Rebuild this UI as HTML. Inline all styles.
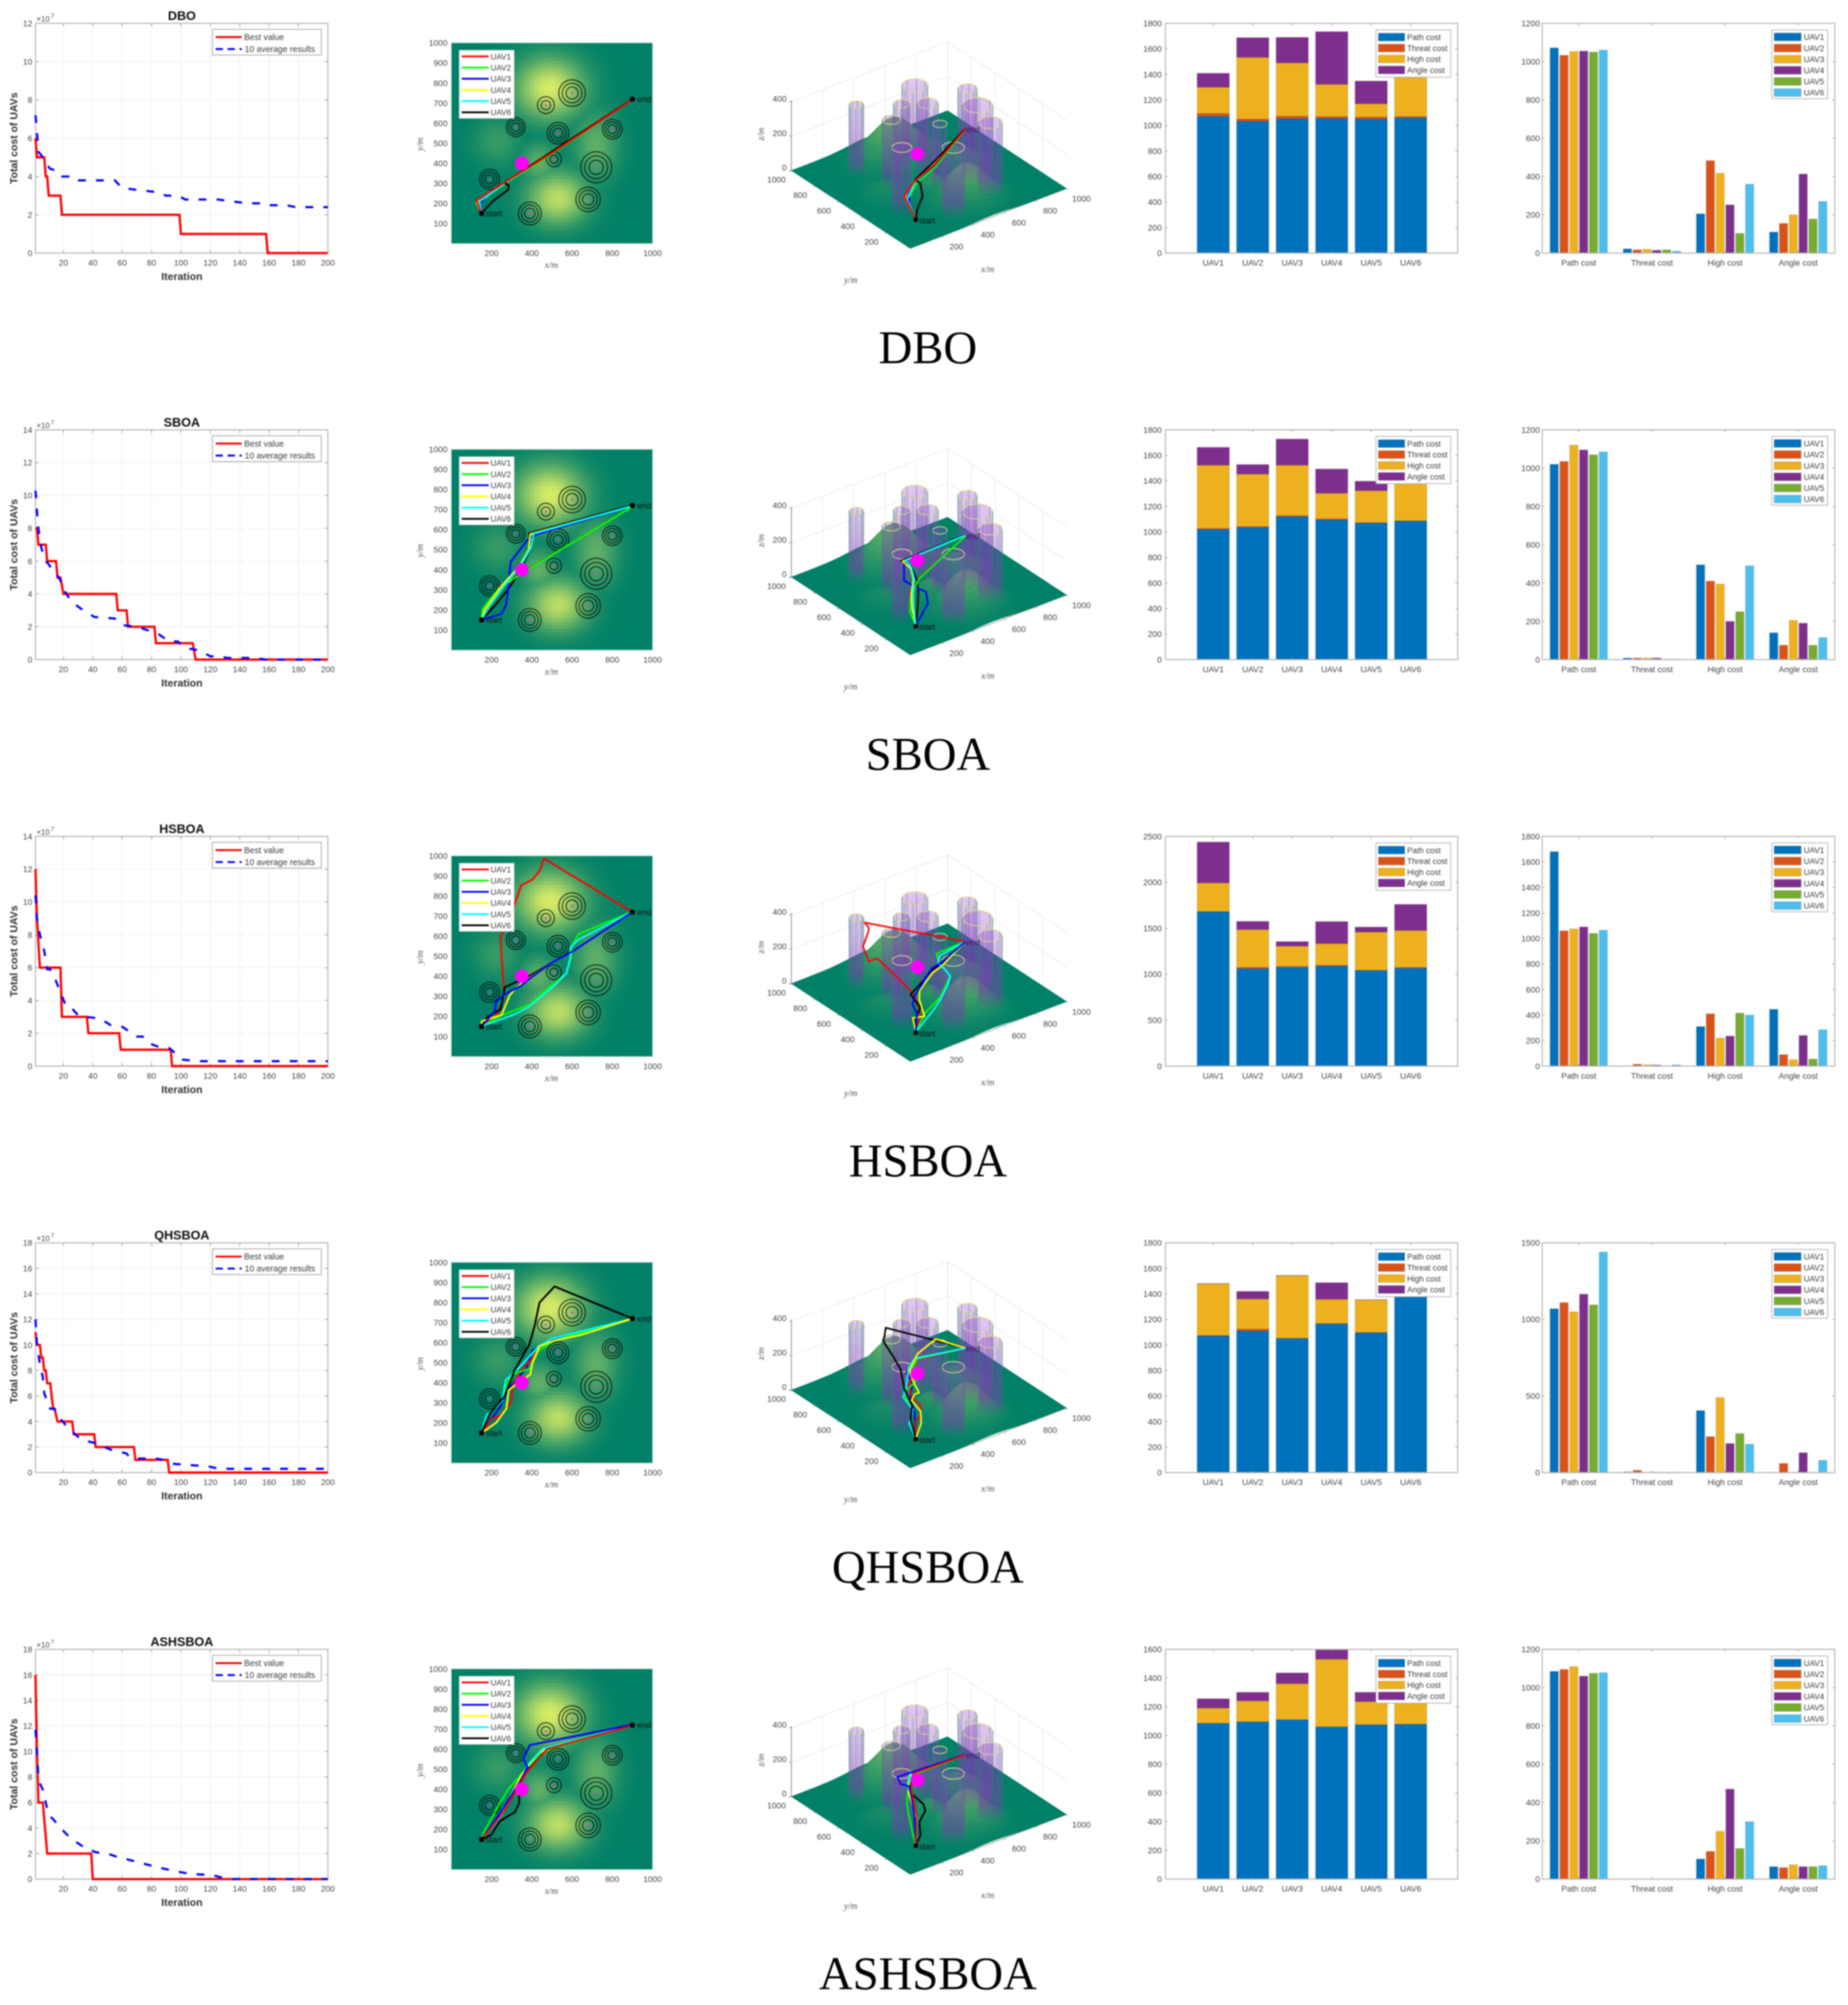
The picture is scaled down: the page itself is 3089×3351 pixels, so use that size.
<!DOCTYPE html>
<html lang="en">
<head>
<meta charset="utf-8">
<title>UAV path planning comparison</title>
<style>
html,body{margin:0;padding:0;background:#fff;}
svg{display:block;filter:blur(1px);}
text{font-family:"Liberation Sans",Arial,sans-serif;}
.tick{font-size:14px;fill:#444;}
.legend-text{font-size:13.5px;fill:#3c3c3c;}
.conv-legend{font-size:14.3px;fill:#3c3c3c;}
.title{font-size:21px;font-weight:bold;fill:#111;text-anchor:middle;}
.bold-label{font-size:17.5px;font-weight:bold;fill:#333;text-anchor:middle;}
.math-label{font-family:"Liberation Serif",serif;font-style:italic;font-size:15.5px;fill:#555;text-anchor:middle;}
.caption{font-family:"Liberation Serif",serif;font-size:78px;fill:#000;text-anchor:middle;}
.marker-label{font-size:14px;fill:#111;}
</style>
</head>
<body>
<svg id="figure" xmlns="http://www.w3.org/2000/svg" width="3089" height="3351" viewBox="0 0 3089 3351">
  <rect x="0" y="0" width="3089" height="3351" fill="#ffffff"/>
  <defs id="defs">
    <clipPath id="stack-clip"><rect x="1948" y="39" width="489" height="384"/></clipPath>
    <linearGradient id="cyl-body" x1="0" y1="0" x2="0" y2="1">
      <stop offset="0" stop-color="#9030c8" stop-opacity="0.24"/>
      <stop offset="0.35" stop-color="#9030c8" stop-opacity="0.34"/>
      <stop offset="0.78" stop-color="#8030b8" stop-opacity="0.46"/>
      <stop offset="1" stop-color="#8030b8" stop-opacity="0"/>
    </linearGradient>
    <linearGradient id="cyl-stripe" x1="0" y1="0" x2="0" y2="1">
      <stop offset="0" stop-color="#2f8a80" stop-opacity="0.5"/>
      <stop offset="0.72" stop-color="#5a6f80" stop-opacity="0.35"/>
      <stop offset="1" stop-color="#5a6f80" stop-opacity="0"/>
    </linearGradient>
  </defs>
  <g id="row-0" transform="translate(0,0)">
    <text class="caption" x="1551" y="607">DBO</text>
    <text class="title" x="304" y="33.5">DBO</text>
  </g>
  <g id="row-1" transform="translate(0,679.4)">
    <text class="caption" x="1551" y="607">SBOA</text>
    <text class="title" x="304" y="33.5">SBOA</text>
  </g>
  <g id="row-2" transform="translate(0,1358.8)">
    <text class="caption" x="1551" y="607">HSBOA</text>
    <text class="title" x="304" y="33.5">HSBOA</text>
  </g>
  <g id="row-3" transform="translate(0,2038.2)">
    <text class="caption" x="1551" y="607">QHSBOA</text>
    <text class="title" x="304" y="33.5">QHSBOA</text>
  </g>
  <g id="row-4" transform="translate(0,2717.6)">
    <text class="caption" x="1551" y="607">ASHSBOA</text>
    <text class="title" x="304" y="33.5">ASHSBOA</text>
  </g>
</svg>
<script>
/* ---------- DATA ---------- */
const convTickX = [20,40,60,80,100,120,140,160,180,200];
const convYMax = [12,14,14,18,18];

const bestDBO = [[1,6],[2,5],[7,5],[8,4],[9,4],[10,3],[18,3],[19,2],[99,2],[100,1],[158,1],[159,0],[200,0]];
const avgDBO = [[1,7.2],[2,6.3],[3,5.3],[6,5],[8,4.7],[11,4.4],[16,4.3],[19,4],[25,4],[28,3.8],[55,3.8],[60,3.4],[70,3.3],[82,3.2],[90,3],[98,3],[103,2.8],[125,2.8],[135,2.7],[145,2.6],[155,2.6],[158,2.5],[172,2.5],[178,2.4],[200,2.4]];
const bestSBOA = [[1,8],[2,8],[3,7],[8,7],[9,6],[15,6],[16,5],[18,5],[20,4],[56,4],[57,3],[63,3],[64,2],[82,2],[83,1],[108,1],[110,0],[200,0]];
const avgSBOA = [[1,10.3],[2,9],[3,8],[5,6.8],[8,6],[10,5.8],[14,5.3],[17,5],[22,4],[26,3.5],[32,3.1],[41,2.6],[55,2.5],[60,2.1],[70,2],[77,1.8],[84,1.6],[92,1.1],[98,1.1],[103,0.7],[110,0.6],[114,0.5],[120,0.2],[125,0.2],[132,0.1],[150,0.1],[158,0],[200,0]];
const bestHSBOA = [[1,12],[2,9],[4,6],[18,6],[19,3],[36,3],[37,2],[58,2],[59,1],[93,1],[94,0],[200,0]];
const avgHSBOA = [[1,10.4],[2,9],[4,8],[7,7],[9,5.9],[11,5.9],[14,5.4],[18,4.5],[22,3.6],[26,3.5],[30,3.1],[35,3],[45,2.9],[52,2.5],[60,2.4],[70,1.8],[74,1.8],[78,1.4],[84,1.2],[92,1.1],[96,0.8],[101,0.4],[110,0.3],[200,0.3]];
const bestQHSBOA = [[1,11],[2,10],[4,10],[5,9],[6,9],[7,8],[8,8],[9,7],[11,7],[13,5],[14,5],[16,4],[26,4],[27,3],[41,3],[42,2],[68,2],[69,1],[91,1],[92,0],[200,0]];
const avgQHSBOA = [[1,12],[2,10],[4,8.5],[6,7.5],[7,6.2],[11,5],[14,5],[18,4.2],[24,3.4],[32,2.6],[35,2.5],[42,2.3],[52,1.8],[63,1.5],[65,1.2],[71,1.1],[83,1.1],[88,1],[94,0.7],[105,0.6],[118,0.5],[126,0.3],[200,0.3]];
const bestASHSBOA = [[1,16],[2,10],[3,6],[6,6],[9,2],[39,2],[40,0],[200,0]];
const avgASHSBOA = [[1,11.7],[2,10],[3,8],[4,7.5],[6,7],[8,6],[10,5],[13,4.7],[18,4],[25,3.2],[34,2.5],[42,2.1],[50,2],[55,1.8],[65,1.5],[75,1.2],[85,0.9],[97,0.6],[107,0.4],[115,0.35],[122,0.3],[130,0.05],[135,0],[200,0]];
const bestSeries = [bestDBO,bestSBOA,bestHSBOA,bestQHSBOA,bestASHSBOA];
const avgSeries = [avgDBO,avgSBOA,avgHSBOA,avgQHSBOA,avgASHSBOA];

const uavNames = ['UAV1','UAV2','UAV3','UAV4','UAV5','UAV6'];
const costNames = ['Path cost','Threat cost','High cost','Angle cost'];

const pathCostDBO = [1072,1033,1053,1055,1050,1060];
const threatCostDBO = [22,17,20,15,17,10];
const highCostDBO = [205,483,417,252,103,360];
const angleCostDBO = [110,155,200,413,178,270];
const pathCostSBOA = [1020,1035,1120,1095,1070,1085];
const threatCostSBOA = [8,8,8,8,3,3];
const highCostSBOA = [495,410,395,200,250,490];
const angleCostSBOA = [140,75,205,190,75,115];
const pathCostHSBOA = [1680,1060,1075,1090,1040,1065];
const threatCostHSBOA = [3,15,10,8,3,10];
const highCostHSBOA = [310,410,220,235,415,400];
const angleCostHSBOA = [445,90,50,240,55,285];
const pathCostQHSBOA = [1070,1110,1050,1165,1095,1440];
const threatCostQHSBOA = [5,15,3,3,3,3];
const highCostQHSBOA = [405,235,490,190,255,185];
const angleCostQHSBOA = [2,60,2,130,2,80];
const pathCostASHSBOA = [1085,1095,1110,1060,1075,1078];
const threatCostASHSBOA = [1,1,1,1,1,1];
const highCostASHSBOA = [105,145,250,470,160,300];
const angleCostASHSBOA = [65,60,75,65,65,70];
const costTable = [
  [pathCostDBO,threatCostDBO,highCostDBO,angleCostDBO],
  [pathCostSBOA,threatCostSBOA,highCostSBOA,angleCostSBOA],
  [pathCostHSBOA,threatCostHSBOA,highCostHSBOA,angleCostHSBOA],
  [pathCostQHSBOA,threatCostQHSBOA,highCostQHSBOA,angleCostQHSBOA],
  [pathCostASHSBOA,threatCostASHSBOA,highCostASHSBOA,angleCostASHSBOA]
];
const stackTicks = [
  [0,200,400,600,800,1000,1200,1400,1600,1800],
  [0,200,400,600,800,1000,1200,1400,1600,1800],
  [0,500,1000,1500,2000,2500],
  [0,200,400,600,800,1000,1200,1400,1600,1800],
  [0,200,400,600,800,1000,1200,1400,1600]
];
const groupTicks = [
  [0,200,400,600,800,1000,1200],
  [0,200,400,600,800,1000,1200],
  [0,200,400,600,800,1000,1200,1400,1600,1800],
  [0,500,1000,1500],
  [0,200,400,600,800,1000,1200]
];
const barColors = ['#0072BD','#D95319','#EDB120','#7E2F8E','#77AC30','#4DBEEE'];

/* threats and terrain in map coordinates (metres) */
const threatX = [600,470,320,530,800,510,720,190,680,390,245];
const threatY = [750,690,580,550,570,420,380,320,220,150,775];
const threatR = [66,42,47,54,49,37,77,50,61,57,37];
const threatTop = [400,365,374,410,392,356,410,375,395,382,400];
const hillX = [490,530,720,435,230];
const hillY = [775,225,490,400,510];
const hillH = [236,205,105,105,60];
const hillSX = [170,150,110,90,120];
const hillSY = [150,130,170,100,120];
const startPoint = [150,150];
const endPoint = [900,720];
const waypoint = [350,400];
const uavLineColors = ['#ff0000','#00ff00','#0000ff','#ffff00','#00ffff','#000000'];
const mapTicks = [100,200,300,400,500,600,700,800,900,1000];
const mapTicksX = [200,400,600,800,1000];
const ticks3D = [200,400,600,800,1000];
const ticksZ = [0,200,400];

/* flight paths: [x, y, z] in metres */
const flightDBO = [
 [[150,150,50],[125,215,160],[263,304,165],[505,455,108],[900,718,57]],
 [[150,150,50],[135,205,130],[268,300,150],[510,455,92],[900,718,57]],
 [[150,150,50],[145,200,120],[178,245,150],[265,302,160],[512,462,100],[900,720,57]],
 [[150,150,50],[125,205,150],[140,225,155],[263,304,165],[510,465,104],[900,720,57]],
 [[150,150,50],[140,210,140],[263,300,165],[510,462,104],[900,720,57]],
 [[150,150,50],[205,210,60],[284,269,82],[285,290,149],[263,304,170],[518,470,118],[900,720,57]]
];
const flightSBOA = [
 [[150,150,50],[190,215,110],[245,320,130],[350,385,150],[900,715,57]],
 [[150,150,50],[155,205,100],[235,305,110],[345,380,150],[900,715,57]],
 [[150,150,50],[250,180,130],[272,225,170],[282,300,150],[295,440,130],[375,545,150],[420,575,150],[900,718,57]],
 [[150,150,50],[165,200,120],[250,320,120],[340,420,130],[385,500,140],[392,578,146],[900,718,57]],
 [[150,150,50],[190,220,120],[270,330,130],[345,420,130],[395,510,140],[410,580,146],[900,718,57]],
 [[150,150,50],[215,220,110],[280,300,130],[340,390,140],[395,510,145],[386,582,150],[900,722,57]]
];
const flightHSBOA = [
 [[150,150,50],[226,211,90],[255,276,130],[262,325,160],[250,494,215],[245,598,243],[315,762,127],[347,853,161],[404,883,215],[439,926,205],[460,987,200],[900,720,57]],
 [[150,150,50],[250,205,100],[394,261,120],[493,350,110],[572,415,110],[597,504,110],[597,545,120],[632,610,130],[895,720,57]],
 [[150,150,50],[216,226,100],[221,271,130],[265,310,150],[350,355,170],[384,385,170],[493,464,160],[602,524,130],[900,720,57]],
 [[150,150,50],[151,176,120],[250,208,80],[290,305,120],[315,335,150],[354,367,140],[493,464,130],[602,524,110],[900,720,57]],
 [[150,150,50],[315,211,100],[384,246,120],[513,355,110],[572,415,110],[592,494,110],[592,544,120],[632,583,130],[897,720,57]],
 [[150,150,50],[176,196,90],[245,236,120],[265,345,140],[394,405,150],[493,464,150],[602,524,120],[900,720,57]]
];
const flightQHSBOA = [
 [[150,150,50],[204,222,100],[244,237,110],[299,307,120],[304,382,130],[354,472,145],[403,521,145],[438,581,150],[513,611,175],[900,720,57]],
 [[150,150,50],[194,252,100],[244,302,110],[284,412,130],[304,442,140],[393,472,150],[433,561,170],[513,611,180],[900,720,57]],
 [[150,150,50],[244,282,110],[284,372,130],[373,472,150],[403,561,160],[513,618,175],[900,720,57]],
 [[150,150,50],[224,202,90],[274,272,110],[284,362,130],[334,402,130],[393,442,100],[403,502,130],[438,581,150],[513,611,210],[650,640,233],[900,720,57]],
 [[150,150,50],[174,237,90],[254,312,110],[269,412,130],[334,472,150],[433,581,170],[503,621,180],[900,720,57]],
 [[150,150,50],[194,252,100],[264,332,120],[314,462,140],[388,591,170],[413,681,190],[438,800,220],[513,880,238],[900,720,57]]
];
const flightASHSBOA = [
 [[150,150,50],[263,292,120],[379,491,150],[475,600,150],[900,718,57]],
 [[150,150,50],[160,182,80],[241,332,120],[284,401,130],[358,487,150],[453,590,150],[900,718,57]],
 [[150,150,50],[263,312,120],[348,451,140],[379,511,150],[358,551,150],[390,620,150],[900,722,57]],
 [[150,150,50],[241,262,120],[348,471,140],[433,580,150],[475,602,150],[900,720,57]],
 [[150,150,50],[251,272,120],[337,421,140],[379,521,150],[453,601,150],[900,720,57]],
 [[150,150,50],[198,173,80],[241,241,110],[316,287,130],[337,331,140],[337,390,150],[348,471,150],[475,600,150],[900,718,57]]
];
const flightSeries = [flightDBO,flightSBOA,flightHSBOA,flightQHSBOA,flightASHSBOA];
const drawOrders = [[1,2,3,4,5,0],[0,5,2,1,3,4],[0,1,5,3,4,2],[2,0,1,4,5,3],[5,1,3,4,2,0]];

/* ---------- HELPERS ---------- */
const SVGNS = 'http://www.w3.org/2000/svg';
function mk(tag, parent, name, attrs, text) {
  const el = document.createElementNS(SVGNS, tag);
  for (const k in attrs) el.setAttribute(k, attrs[k]);
  
  
  if (text !== undefined) el.textContent = text;
  parent.appendChild(el);
  return el;
}
function line(p, name, x1, y1, x2, y2, stroke, w) {
  return mk('line', p, name, {x1:x1, y1:y1, x2:x2, y2:y2, stroke:stroke, 'stroke-width':w});
}
function ptsStr(a) { return a.map(p => p[0].toFixed(1) + ',' + p[1].toFixed(1)).join(' '); }

/* axis functions */
const PLOT_TOP = 39, PLOT_BOTTOM = 423;
const convX = i => 59.3 + (i - 1) * 2.456;
const convY = (v, max) => PLOT_BOTTOM - v / max * (PLOT_BOTTOM - PLOT_TOP);
const mapX = v => 754.5 + v * 0.3362;
const mapY = v => 407 - v * 0.3353;
const proj = (x, y, z) => [1521.4 + x * 0.2612 - y * 0.1986, 415 - x * 0.1 - y * 0.13 - z * 0.2875];
const stackX = i => 2028 + i * 66;
const groupX = i => 2577.8 + (i + 0.5) * 122.3;
const barY = (v, max) => PLOT_BOTTOM - v / max * (PLOT_BOTTOM - PLOT_TOP);

function terrainZ(x, y) {
  let z = 0;
  for (let i = 0; i < hillX.length; i++) {
    const dx = (x - hillX[i]) / hillSX[i], dy = (y - hillY[i]) / hillSY[i];
    z = Math.max(z, hillH[i] * Math.exp(-dx * dx - dy * dy));
  }
  return z;
}
function summer(z, clim) {
  const t = Math.min(1, z / clim);
  return 'rgb(' + Math.round(255 * t) + ',' + Math.round(127.5 + 127.5 * t) + ',102)';
}

/* ---------- SHARED TERRAIN ---------- */
const defs = document.getElementById('defs');
const mapTerrain = mk('g', defs, 'terrain-heatmap', {id:'map-terrain', 'shape-rendering':'crispEdges'});
const CELLS = 56, CELL = 1000 / CELLS;
for (let i = 0; i < CELLS; i++) {
  for (let j = 0; j < CELLS; j++) {
    const cx = (i + 0.5) * CELL, cy = (j + 0.5) * CELL;
    mk('rect', mapTerrain, 'terrain-cell', {
      x: mapX(i * CELL).toFixed(2), y: mapY((j + 1) * CELL).toFixed(2),
      width: (CELL * 0.3362 + 0.4).toFixed(2), height: (CELL * 0.3353 + 0.4).toFixed(2),
      fill: summer(terrainZ(cx, cy), 280)
    });
  }
}
const surface = mk('g', defs, 'terrain-surface', {id:'surface-3d'});
const QS = 20;
for (let x = 1000 - QS; x >= 0; x -= QS) {
  for (let y = 1000 - QS; y >= 0; y -= QS) {
    const c = [[x,y],[x+QS,y],[x+QS,y+QS],[x,y+QS]].map(p => proj(p[0], p[1], terrainZ(p[0], p[1])));
    const col = summer(terrainZ(x + QS / 2, y + QS / 2), 560);
    mk('polygon', surface, 'surface-quad', {points: ptsStr(c), fill: col, stroke: col, 'stroke-width': 0.6});
  }
}

/* cylinders (threat columns) on the 3D scene */
const cylinders = mk('g', defs, 'threat-cylinders', {id:'cylinders-3d'});
const cylOrder = threatX.map((_, i) => i).sort((a, b) => (threatX[b] + threatY[b]) - (threatX[a] + threatY[a]));
cylOrder.forEach(i => {
  const top = threatTop[i], r = threatR[i];
  const ringTop = [], ringBot = [];
  for (let k = 0; k < 48; k++) {
    const t = k / 48 * 2 * Math.PI;
    ringTop.push(proj(threatX[i] + r * Math.cos(t), threatY[i] + r * Math.sin(t), top));
    ringBot.push(proj(threatX[i] + r * Math.cos(t), threatY[i] + r * Math.sin(t), 0));
  }
  let lo = 0, hi = 0;
  ringTop.forEach((p, k) => { if (p[0] < ringTop[lo][0]) lo = k; if (p[0] > ringTop[hi][0]) hi = k; });
  const body = [];
  for (let k = lo; ; k = (k + 47) % 48) { body.push(ringTop[k]); if (k === hi) break; }
  for (let k = hi; ; k = (k + 47) % 48) { body.push(ringBot[k]); if (k === lo) break; }
  mk('polygon', cylinders, 'threat-cylinder-body', {points: ptsStr(body), fill: 'url(#cyl-body)'});
  mk('polygon', cylinders, 'threat-cylinder-top', {points: ptsStr(ringTop), fill: 'rgba(200,120,230,0.06)', stroke: '#e6dc8c', 'stroke-width': 1.5});
  const stripes = [lo, hi];
  for (let k = 0; k < 48; k += 6) stripes.push(k);
  stripes.forEach(k => {
    mk('rect', cylinders, 'threat-cylinder-stripe', {
      x: (ringTop[k][0] - 0.7).toFixed(1), y: ringTop[k][1].toFixed(1),
      width: 1.4, height: (ringBot[k][1] - ringTop[k][1]).toFixed(1),
      fill: 'url(#cyl-stripe)'
    });
  });
});

/* ---------- CHART BUILDERS ---------- */
function drawConvergence(parent, r) {
  const g = mk('g', parent, 'convergence-chart', {});
  const max = convYMax[r];
  mk('rect', g, 'plot-area', {x: convX(1), y: PLOT_TOP, width: convX(200) - convX(1), height: PLOT_BOTTOM - PLOT_TOP, fill: '#fff'});
  convTickX.forEach(t => {
    line(g, 'x-grid-line', convX(t), PLOT_TOP, convX(t), PLOT_BOTTOM, '#ececec', 1);
    line(g, 'x-tick', convX(t), PLOT_BOTTOM, convX(t), PLOT_BOTTOM - 5, '#777', 1);
    line(g, 'x-tick', convX(t), PLOT_TOP, convX(t), PLOT_TOP + 5, '#777', 1);
    mk('text', g, 'x-tick-label', {x: convX(t), y: 444, class: 'tick', 'text-anchor': 'middle'}, t);
  });
  for (let v = 0; v <= max; v += 2) {
    line(g, 'y-grid-line', convX(1), convY(v, max), convX(200), convY(v, max), '#ececec', 1);
    line(g, 'y-tick', convX(1), convY(v, max), convX(1) + 5, convY(v, max), '#777', 1);
    line(g, 'y-tick', convX(200), convY(v, max), convX(200) - 5, convY(v, max), '#777', 1);
    mk('text', g, 'y-tick-label', {x: 54, y: convY(v, max) + 5, class: 'tick', 'text-anchor': 'end'}, v);
  }
  mk('rect', g, 'axes-box', {x: convX(1), y: PLOT_TOP, width: convX(200) - convX(1), height: PLOT_BOTTOM - PLOT_TOP, fill: 'none', stroke: '#b5b5b5', 'stroke-width': 1.8});
  mk('text', g, 'y-axis-exponent', {x: 61, y: 36, class: 'tick', style: 'font-size:13px'}, '×10');
  mk('text', g, 'y-axis-exponent-power', {x: 85, y: 30, class: 'tick', style: 'font-size:10px'}, '7');
  mk('text', g, 'x-axis-title', {x: 304, y: 468, class: 'bold-label'}, 'Iteration');
  mk('text', g, 'y-axis-title', {x: 0, y: 0, class: 'bold-label', transform: 'translate(29,231) rotate(-90)'}, 'Total cost of UAVs');

  const toPts = s => s.map(p => [convX(p[0]), convY(p[1], max)]);
  mk('polyline', g, 'best-value-line', {points: ptsStr(toPts(bestSeries[r])), fill: 'none', stroke: '#ff0000', 'stroke-width': 3.8});
  mk('polyline', g, 'average-results-line', {points: ptsStr(toPts(avgSeries[r])), fill: 'none', stroke: '#0000ff', 'stroke-width': 3.6, 'stroke-dasharray': '13 17'});

  const lg = mk('g', g, 'convergence-legend', {});
  mk('rect', lg, 'legend-box', {x: 355, y: 49, width: 182, height: 43, fill: '#fff', stroke: '#9a9a9a', 'stroke-width': 1.2});
  line(lg, 'legend-best-swatch', 360.5, 62, 404, 62, '#ff0000', 3.2);
  mk('text', lg, 'legend-best-label', {x: 408, y: 67, class: 'conv-legend'}, 'Best value');
  mk('line', lg, 'legend-average-swatch', {x1: 360.5, y1: 82, x2: 404, y2: 82, stroke: '#0000ff', 'stroke-width': 3.2, 'stroke-dasharray': '12 8'});
  mk('text', lg, 'legend-average-label', {x: 409, y: 87, class: 'conv-legend'}, '10 average results');
}

function drawMap(parent, r) {
  const g = mk('g', parent, 'top-view-map', {});
  mk('use', g, 'terrain-heatmap-instance', {href: '#map-terrain'});
  mk('rect', g, 'map-frame', {x: mapX(0), y: mapY(1000), width: mapX(1000) - mapX(0), height: mapY(0) - mapY(1000), fill: 'none', stroke: '#a8cfc4', 'stroke-width': 1});
  threatX.forEach((tx, i) => {
    const R = threatR[i] * 0.3357;
    const rings = threatR[i] < 45 ? [1, 0.55] : [1, 0.74, 0.46];
    rings.forEach(f => {
      mk('circle', g, 'threat-ring', {cx: mapX(tx), cy: mapY(threatY[i]), r: (R * f).toFixed(2), fill: 'none', stroke: '#000', 'stroke-opacity': 0.9, 'stroke-width': 1.4});
    });
    mk('circle', g, 'threat-center', {cx: mapX(tx), cy: mapY(threatY[i]), r: 1.8, fill: '#ff2bd0'});
  });
  const fl = flightSeries[r];
  drawOrders[r].forEach(u => {
    mk('polyline', g, 'flight-path-' + uavNames[u].toLowerCase(), {points: ptsStr(fl[u].map(p => [mapX(p[0]), mapY(p[1])])), fill: 'none', stroke: uavLineColors[u], 'stroke-width': 3, 'stroke-linejoin': 'round'});
  });
  mk('circle', g, 'waypoint-marker', {cx: mapX(waypoint[0]), cy: mapY(waypoint[1]), r: 11.4, fill: '#ff00ff'});
  mk('rect', g, 'start-marker', {x: mapX(startPoint[0]) - 4, y: mapY(startPoint[1]) - 4, width: 8, height: 8, fill: '#000'});
  mk('text', g, 'start-label', {x: mapX(startPoint[0]) + 7, y: mapY(startPoint[1]) + 5, class: 'marker-label'}, 'start');
  mk('circle', g, 'end-marker', {cx: mapX(endPoint[0]), cy: mapY(endPoint[1]), r: 4.5, fill: '#000'});
  mk('text', g, 'end-label', {x: mapX(endPoint[0]) + 8, y: mapY(endPoint[1]) + 5, class: 'marker-label'}, 'end');
  mapTicks.forEach(t => {
    mk('text', g, 'map-y-tick-label', {x: 748, y: mapY(t) + 5, class: 'tick', 'text-anchor': 'end'}, t);
  });
  mapTicksX.forEach(t => {
    mk('text', g, 'map-x-tick-label', {x: mapX(t), y: 428, class: 'tick', 'text-anchor': 'middle'}, t);
  });
  mk('text', g, 'map-x-axis-title', {x: 921.7, y: 448, class: 'math-label'}, 'x/m');
  mk('text', g, 'map-y-axis-title', {x: 0, y: 0, class: 'math-label', transform: 'translate(707,241) rotate(-90)'}, 'y/m');

  const lg = mk('g', g, 'map-legend', {});
  mk('rect', lg, 'legend-box', {x: 767.7, y: 84, width: 91.6, height: 113.7, fill: '#fff', stroke: '#ddd', 'stroke-width': 1});
  uavNames.forEach((n, i) => {
    const yy = 94.3 + i * 18.68;
    line(lg, 'legend-swatch', 771.7, yy, 817, yy, uavLineColors[i], 3);
    mk('text', lg, 'legend-label', {x: 820, y: yy + 5, class: 'legend-text'}, n);
  });
}

function draw3D(parent, r) {
  const g = mk('g', parent, 'three-d-scene', {});
  const wall = '#e6e6e6';
  const seg = (name, a, b, col, w) => {
    const p = proj(a[0], a[1], a[2]), q = proj(b[0], b[1], b[2]);
    return line(g, name, p[0], p[1], q[0], q[1], col, w);
  };
  ticks3D.slice(0, 4).forEach(t => {
    seg('wall-grid-line', [t, 1000, 0], [t, 1000, 400], wall, 1);
    seg('wall-grid-line', [1000, t, 0], [1000, t, 400], wall, 1);
  });
  [200, 400].forEach(z => {
    seg('wall-grid-line', [0, 1000, z], [1000, 1000, z], wall, 1);
    seg('wall-grid-line', [1000, 1000, z], [1000, 0, z], wall, 1);
  });
  seg('wall-grid-line', [1000, 1000, 0], [1000, 1000, 400], '#dcdcdc', 1);
  seg('z-axis-line', [0, 1000, 0], [0, 1000, 410], '#999', 1.6);
  seg('x-axis-line', [0, 0, 0], [1000, 0, 0], '#b0b0b0', 1.6);
  seg('y-axis-line', [0, 0, 0], [0, 1000, 0], '#cfcfcf', 1.2);
  mk('use', g, 'terrain-surface-instance', {href: '#surface-3d'});
  mk('use', g, 'threat-cylinders-instance', {href: '#cylinders-3d'});

  ticks3D.forEach(t => {
    const p = proj(t, 0, 0), q = proj(0, t, 0);
    line(g, 'x-tick', p[0], p[1], p[0] + 3, p[1] + 2, '#888', 1);
    line(g, 'y-tick', q[0], q[1], q[0] - 3, q[1] + 2, '#888', 1);
    mk('text', g, 'x-tick-label', {x: p[0] + 25, y: p[1] + 22, class: 'tick', 'text-anchor': 'middle'}, t);
    mk('text', g, 'y-tick-label', {x: q[0] - 25, y: q[1] + 20, class: 'tick', 'text-anchor': 'middle'}, t);
  });
  ticksZ.forEach(t => {
    const p = proj(0, 1000, t);
    line(g, 'z-tick', p[0], p[1], p[0] - 4, p[1], '#888', 1);
    mk('text', g, 'z-tick-label', {x: p[0] - 8, y: p[1] + 0, class: 'tick', 'text-anchor': 'end'}, t);
  });
  mk('text', g, 'x-axis-title', {x: 1651, y: 455, class: 'math-label'}, 'x/m');
  mk('text', g, 'y-axis-title', {x: 1422, y: 473, class: 'math-label'}, 'y/m');
  mk('text', g, 'z-axis-title', {x: 0, y: 0, class: 'math-label', transform: 'translate(1277,224) rotate(-90)'}, 'z/m');

  const endP = proj(endPoint[0], endPoint[1], 57);
  mk('text', g, 'end-label', {x: endP[0] + 1, y: endP[1] + 6, class: 'marker-label', style: 'fill:#50106a'}, 'end');
  const fl = flightSeries[r];
  drawOrders[r].forEach(u => {
    mk('polyline', g, 'flight-path-3d-' + uavNames[u].toLowerCase(), {points: ptsStr(fl[u].map(p => proj(p[0], p[1], p[2]))), fill: 'none', stroke: uavLineColors[u], 'stroke-width': 2.8, 'stroke-linejoin': 'round'});
  });
  const w = proj(waypoint[0], waypoint[1], 245);
  mk('circle', g, 'waypoint-marker', {cx: w[0], cy: w[1], r: 11.3, fill: '#ff00ff'});
  const s = proj(startPoint[0], startPoint[1], 46);
  mk('rect', g, 'start-marker', {x: s[0] - 3.5, y: s[1] - 3.5, width: 7, height: 7, fill: '#000'});
  mk('text', g, 'start-label', {x: s[0] + 5, y: s[1] + 6, class: 'marker-label'}, 'start');
}

function drawAxesCommon(g, left, right, ticks, labelX) {
  const max = ticks[ticks.length - 1];
  ticks.forEach(t => {
    line(g, 'y-tick', left, barY(t, max), left + 4, barY(t, max), '#888', 1);
    line(g, 'y-tick', right, barY(t, max), right - 4, barY(t, max), '#888', 1);
    mk('text', g, 'y-tick-label', {x: labelX, y: barY(t, max) + 5, class: 'tick', 'text-anchor': 'end'}, t);
  });
  return max;
}

function drawStacked(parent, r) {
  const g = mk('g', parent, 'stacked-cost-chart', {});
  const left = 1948, right = 2436.7;
  const max = drawAxesCommon(g, left, right, stackTicks[r], 1942);
  const bars = mk('g', g, 'stacked-bars', {'clip-path': 'url(#stack-clip)'});
  const table = costTable[r];
  uavNames.forEach((n, i) => {
    let acc = 0;
    costNames.forEach((c, k) => {
      const v = table[k][i];
      mk('rect', bars, 'bar-' + n.toLowerCase() + '-' + c.toLowerCase().replace(' ', '-'), {
        x: stackX(i) - 27, y: barY(acc + v, max), width: 54, height: barY(acc, max) - barY(acc + v, max),
        fill: barColors[k], stroke: 'rgba(40,40,40,0.3)', 'stroke-width': 0.6
      });
      acc += v;
    });
    line(g, 'x-tick', stackX(i), PLOT_BOTTOM, stackX(i), PLOT_BOTTOM - 4, '#888', 1);
    line(g, 'x-tick', stackX(i), PLOT_TOP, stackX(i), PLOT_TOP + 4, '#888', 1);
    mk('text', g, 'x-tick-label', {x: stackX(i), y: 444, class: 'tick', 'text-anchor': 'middle'}, n);
  });
  mk('rect', g, 'axes-box', {x: left, y: PLOT_TOP, width: right - left, height: PLOT_BOTTOM - PLOT_TOP, fill: 'none', stroke: '#b5b5b5', 'stroke-width': 1.8});
  const lg = mk('g', g, 'stacked-legend', {});
  mk('rect', lg, 'legend-box', {x: 2300, y: 50, width: 125, height: 79, fill: '#fff', stroke: '#a8a8a8', 'stroke-width': 1.2});
  costNames.forEach((c, k) => {
    const yy = 62 + k * 18.3;
    mk('rect', lg, 'legend-swatch', {x: 2304, y: yy - 6.5, width: 44, height: 13, fill: barColors[k], stroke: 'rgba(40,40,40,0.4)', 'stroke-width': 0.6});
    mk('text', lg, 'legend-label', {x: 2352, y: yy + 5, class: 'legend-text'}, c);
  });
}

function drawGrouped(parent, r) {
  const g = mk('g', parent, 'grouped-cost-chart', {});
  const left = 2577.8, right = 3067;
  const max = drawAxesCommon(g, left, right, groupTicks[r], 2574);
  const table = costTable[r];
  costNames.forEach((c, k) => {
    uavNames.forEach((n, i) => {
      const v = table[k][i];
      mk('rect', g, 'bar-' + c.toLowerCase().replace(' ', '-') + '-' + n.toLowerCase(), {
        x: groupX(k) + (i - 2.5) * 16.4 - 7, y: barY(v, max), width: 14, height: barY(0, max) - barY(v, max),
        fill: barColors[i], stroke: 'rgba(40,40,40,0.3)', 'stroke-width': 0.6
      });
    });
    line(g, 'x-tick', groupX(k), PLOT_BOTTOM, groupX(k), PLOT_BOTTOM - 4, '#888', 1);
    line(g, 'x-tick', groupX(k), PLOT_TOP, groupX(k), PLOT_TOP + 4, '#888', 1);
    mk('text', g, 'x-tick-label', {x: groupX(k), y: 444, class: 'tick', 'text-anchor': 'middle'}, c);
  });
  mk('rect', g, 'axes-box', {x: left, y: PLOT_TOP, width: right - left, height: PLOT_BOTTOM - PLOT_TOP, fill: 'none', stroke: '#b5b5b5', 'stroke-width': 1.8});
  const lg = mk('g', g, 'grouped-legend', {});
  mk('rect', lg, 'legend-box', {x: 2961.7, y: 50, width: 93.3, height: 115, fill: '#fff', stroke: '#a8a8a8', 'stroke-width': 1.2});
  uavNames.forEach((n, i) => {
    const yy = 61.7 + i * 18.6;
    mk('rect', lg, 'legend-swatch', {x: 2965.6, y: yy - 6.5, width: 45, height: 13, fill: barColors[i], stroke: 'rgba(40,40,40,0.4)', 'stroke-width': 0.6});
    mk('text', lg, 'legend-label', {x: 3015, y: yy + 5, class: 'legend-text'}, n);
  });
}

/* ---------- BUILD ---------- */
for (let r = 0; r < 5; r++) {
  const row = document.getElementById('row-' + r);
  drawConvergence(row, r);
  drawMap(row, r);
  draw3D(row, r);
  drawStacked(row, r);
  drawGrouped(row, r);
}
</script>
</body>
</html>
